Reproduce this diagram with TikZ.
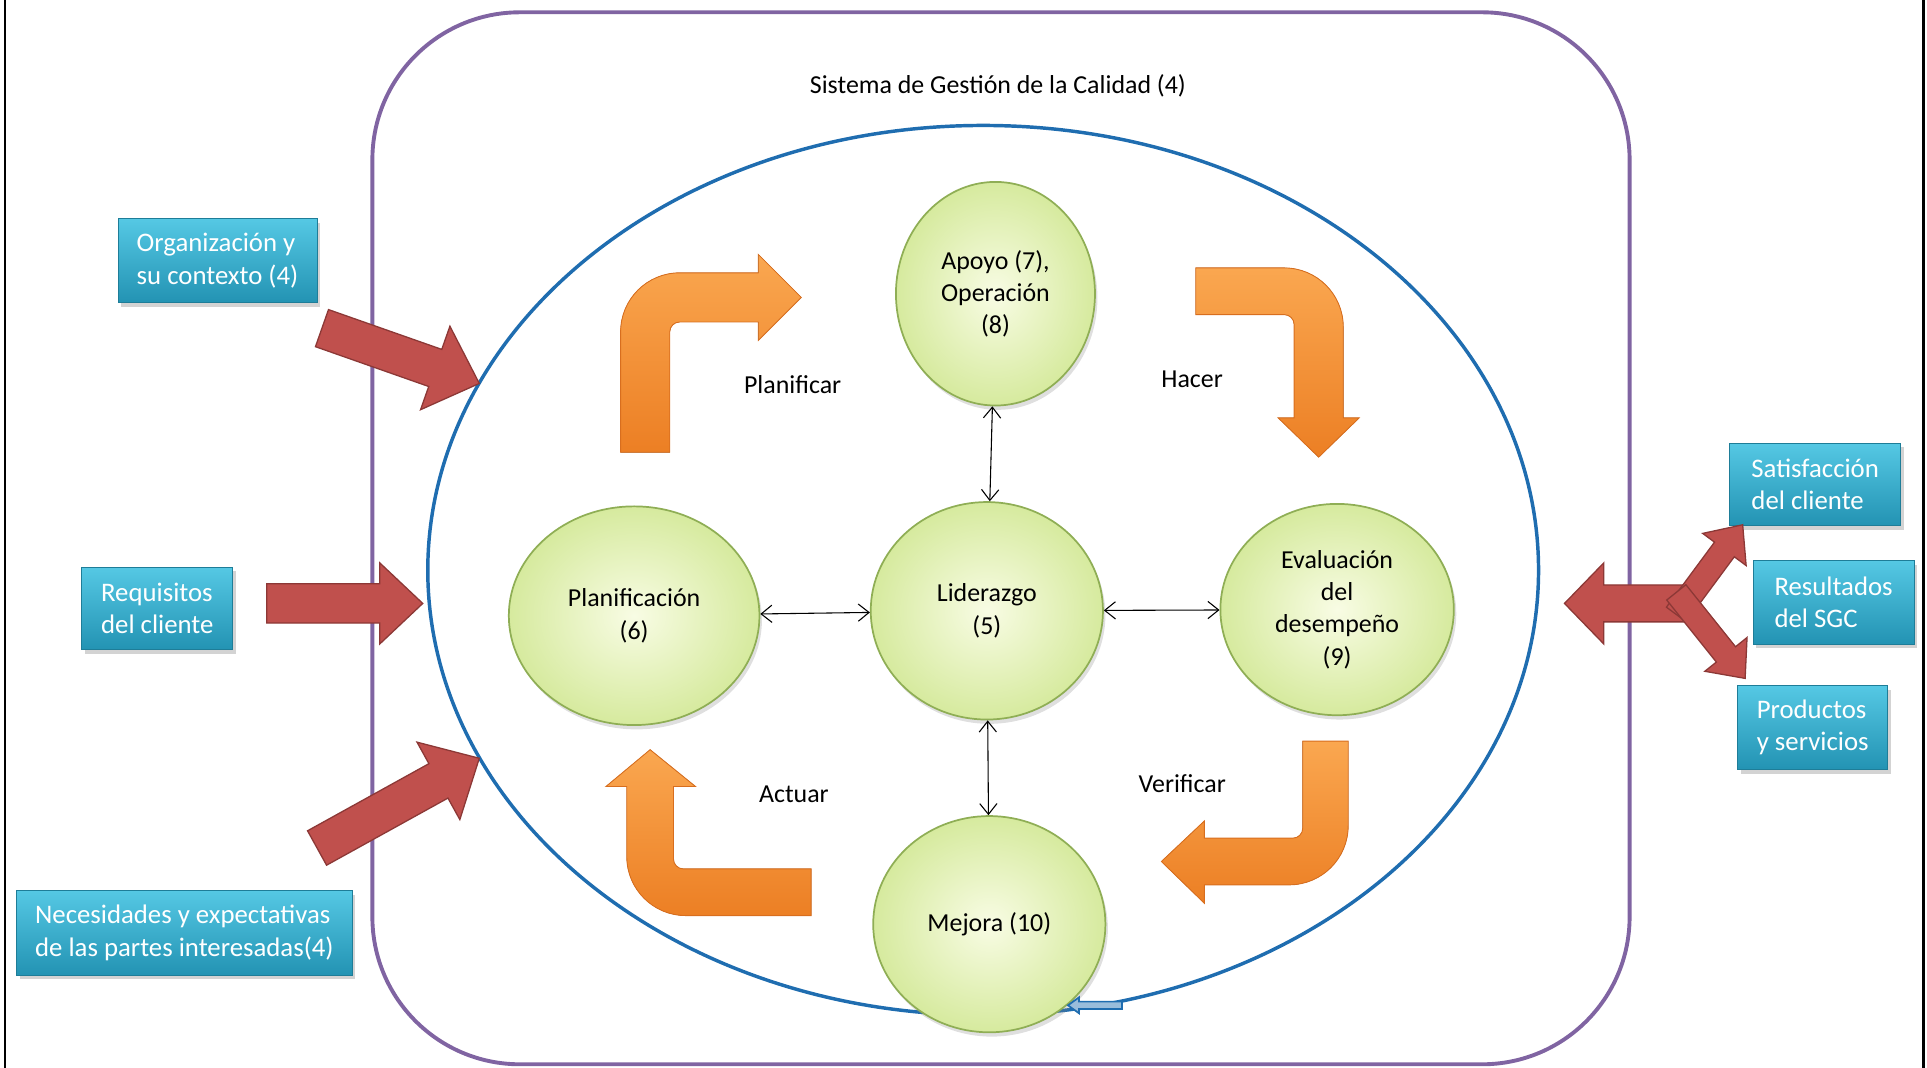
\documentclass[tikz,border=0pt]{standalone}
\usepackage{fontspec}
\setmainfont{Carlito}
\usetikzlibrary{shapes.geometric,shadows,calc,arrows.meta}

\definecolor{sgcpurple}{HTML}{8064A2}
\definecolor{sgcblue}{HTML}{1F6DB0}
\definecolor{leafin}{HTML}{F8FCE4}
\definecolor{leafout}{HTML}{D6EA9E}
\definecolor{leafline}{HTML}{8FAE55}
\definecolor{boxtop}{HTML}{55C8E4}
\definecolor{boxbot}{HTML}{2393B3}
\definecolor{redfill}{HTML}{C0504D}
\definecolor{redline}{HTML}{8C3836}
\definecolor{orangetop}{HTML}{FAA750}
\definecolor{orangebot}{HTML}{EC7F24}
\definecolor{orangeline}{HTML}{D86E1E}

% tail, tip, shaft half width, head half width, head length
\newcommand{\fatarrow}[6][]{%
  \coordinate (fat-base) at ($(#3)!#6!(#2)$);
  \filldraw[#1] ($(#2)!#4!90:(#3)$) -- ($(fat-base)!#4!90:(#3)$) -- ($(fat-base)!#5!90:(#3)$) -- (#3)
    -- ($(fat-base)!#5!-90:(#3)$) -- ($(fat-base)!#4!-90:(#3)$) -- ($(#2)!#4!-90:(#3)$) -- cycle;}

\begin{document}
\begin{tikzpicture}[x=0.02cm,y=-0.02cm,
stage/.style={ellipse,draw=leafline,line width=0.8pt,inner color=leafin,outer color=leafout,inner sep=0pt,align=center,
  font=\fontsize{12}{15}\selectfont,drop shadow={opacity=0.25,shadow xshift=0.04cm,shadow yshift=-0.07cm}},
infobox/.style={rectangle,top color=boxtop,bottom color=boxbot,draw=boxbot!85!black,line width=0.4pt,text=white,align=left,inner sep=2pt,
  font=\fontsize{12.4}{15}\selectfont,drop shadow={opacity=0.35,shadow xshift=0.05cm,shadow yshift=-0.07cm}},
link/.style={{Straight Barb[length=5pt,width=8pt]}-{Straight Barb[length=5pt,width=8pt]},line width=0.5pt},
redarrow/.style={fill=redfill,draw=redline,line width=0.6pt},
turnarrow/.style={top color=orangetop,bottom color=orangebot,draw=orangeline,line width=0.4pt},
cyclelabel/.style={font=\fontsize{12}{15}\selectfont}]

\useasboundingbox (0,0) rectangle (1568,869);
\draw[line width=1.3pt] (4,0) -- (4,869);
\draw[line width=1.3pt] (1565,0) -- (1565,869);

\draw[sgcpurple,line width=1.8pt,rounded corners=2.4cm] (303,10) rectangle (1326,866);
\node[cyclelabel] (title) at (812,70) {Sistema de Gestión de la Calidad (4)};
\draw[sgcblue,line width=1.6pt] (800,464) ellipse [x radius=9.04cm,y radius=7.24cm];

\fill[turnarrow] (505,368) -- (505,270) .. controls (505,243.5) and (526.5,222) .. (553,222) -- (617,222) -- (617,207) -- (652,242)
  -- (617,277) -- (617,262) -- (553,262) .. controls (548.6,262) and (545,265.6) .. (545,270) -- (545,368) -- cycle;
\fill[turnarrow] (973,218) -- (1045,218) .. controls (1071.5,218) and (1093,239.5) .. (1093,266) -- (1093,340) -- (1106,340) -- (1073,372)
  -- (1040,340) -- (1053,340) -- (1053,264) .. controls (1053,259.6) and (1049.4,256) .. (1045,256) -- (973,256) -- cycle;
\fill[turnarrow] (1060,603) -- (1097,603) -- (1097,672) .. controls (1097,698.5) and (1075.5,720) .. (1049,720) -- (980,720) -- (980,735)
  -- (945,701) -- (980,668) -- (980,682) -- (1052,682) .. controls (1056.4,682) and (1060,678.4) .. (1060,674) -- cycle;
\fill[turnarrow] (660,707) -- (660,745) -- (558,745) .. controls (531.5,745) and (510,723.5) .. (510,697) -- (510,640) -- (493,640)
  -- (529,610) -- (566,640) -- (548,640) -- (548,699) .. controls (548,703.4) and (551.6,707) .. (556,707) -- cycle;

\node[cyclelabel] (planificar) at (645,313) {Planificar};
\node[cyclelabel] (hacer) at (970,309) {Hacer};
\node[cyclelabel] (verificar) at (962,638) {Verificar};
\node[cyclelabel] (actuar) at (646,646) {Actuar};

\node[infobox,minimum width=3.24cm,minimum height=1.36cm] (org) at (177,212) {Organización y\\su contexto (4)};
\node[infobox,minimum width=2.46cm,minimum height=1.34cm] (req) at (128,495) {Requisitos\\del cliente};
\node[infobox,minimum width=5.46cm,minimum height=1.38cm] (nec) at (150,759) {Necesidades y expectativas\\de las partes interesadas(4)};
\node[infobox,minimum width=2.78cm,minimum height=1.34cm] (sat) at (1477,394) {Satisfacción\\del cliente};
\node[infobox,minimum width=2.62cm,minimum height=1.36cm] (res) at (1492,490) {Resultados\\del SGC};
\node[infobox,minimum width=2.44cm,minimum height=1.36cm] (prod) at (1475,592) {Productos\\y servicios};

\coordinate (orgtail) at (262,267); \coordinate (orgtip) at (390,312);
\coordinate (reqtail) at (217,491); \coordinate (reqtip) at (344,491);
\coordinate (nectail) at (258,690); \coordinate (nectip) at (390,617);
\coordinate (outjoin) at (1378,491); \coordinate (outtip) at (1273,491);
\coordinate (satjoin) at (1364,500); \coordinate (sattip) at (1418,427);
\coordinate (prodjoin) at (1364,482); \coordinate (prodtip) at (1420,552);
\fatarrow[redarrow]{orgtail}{orgtip}{0.32cm}{0.72cm}{0.76cm}
\fatarrow[redarrow]{reqtail}{reqtip}{0.32cm}{0.66cm}{0.7cm}
\fatarrow[redarrow]{nectail}{nectip}{0.32cm}{0.72cm}{0.76cm}
\fatarrow[redarrow]{outjoin}{outtip}{0.3cm}{0.66cm}{0.64cm}
\fatarrow[redarrow]{satjoin}{sattip}{0.2cm}{0.44cm}{0.5cm}
\fatarrow[redarrow]{prodjoin}{prodtip}{0.2cm}{0.44cm}{0.5cm}

\node[stage,minimum width=3.24cm,minimum height=3.64cm] (apoyo) at (810,239) {Apoyo (7),\\Operación\\(8)};
\node[stage,minimum width=4.08cm,minimum height=3.56cm] (plan) at (516,501) {Planificación\\(6)};
\node[stage,minimum width=3.78cm,minimum height=3.54cm] (lider) at (803,497) {Liderazgo\\(5)};
\node[stage,minimum width=3.8cm,minimum height=3.44cm] (eval) at (1088,496) {Evaluación\\del\\desempeño\\(9)};
\node[stage,minimum width=3.78cm,minimum height=3.52cm] (mejora) at (805,752) {Mejora (10)};

\draw[link] (apoyo) -- (lider);
\draw[link] (plan) -- (lider);
\draw[link] (lider) -- (eval);
\draw[link] (lider) -- (mejora);

\coordinate (looptail) at (913,818); \coordinate (looptip) at (869,818);
\fatarrow[fill=sgcblue!45,draw=sgcblue,line width=0.8pt]{looptail}{looptip}{0.06cm}{0.13cm}{0.18cm}
\end{tikzpicture}
\end{document}
